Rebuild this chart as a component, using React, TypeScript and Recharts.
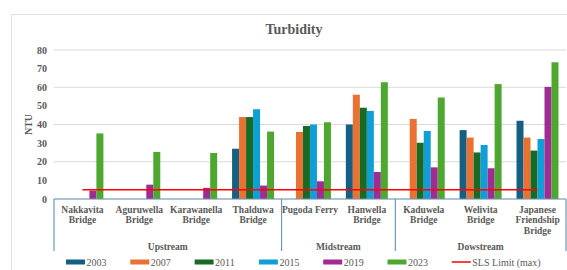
import * as React from "react";
import {
  ComposedChart,
  Bar,
  Line,
  XAxis,
  YAxis,
  CartesianGrid,
  Legend,
} from "recharts";

const SERIF = "Liberation Serif, DejaVu Serif, serif";
const GREY = "#595959";
const AXIS_BLUE = "#6f97b8";

// bridges along the river, line breaks as in the source axis
const categories = [
  "Nakkavita\nBridge",
  "Aguruwella\nBridge",
  "Karawanella\nBridge",
  "Thalduwa\nBridge",
  "Pugoda Ferry",
  "Hanwella\nBridge",
  "Kaduwela\nBridge",
  "Welivita\nBridge",
  "Japanese\nFriendship\nBridge",
];

const groupNames = ["Upstream", "Midstream", "Dowstream"];
const groupSizes = [4, 2, 3];

const t2003 = [null, null, null, 27, null, 40, null, 37, 42];
const t2007 = [null, null, null, 44, 36, 56, 43, 33, 33];
const t2011 = [null, null, null, 44, 39.2, 49, 30.2, 25, 26];
const t2015 = [null, null, null, 48.2, 40, 47.3, 36.5, 29, 32.2];
const t2019 = [4.5, 7.7, 6, 7.2, 9.5, 14.5, 17, 16.5, 60.2];
const t2023 = [35.2, 25.3, 24.7, 36.2, 41.2, 62.7, 54.5, 61.7, 73.4];
const slsLimit = [5, 5, 5, 5, 5, 5, 5, 5, 5];

const yTicks = [0, 10, 20, 30, 40, 50, 60, 70, 80];

const series = [
  { key: "2003", values: t2003, color: "#156082" },
  { key: "2007", values: t2007, color: "#E97132" },
  { key: "2011", values: t2011, color: "#196B24" },
  { key: "2015", values: t2015, color: "#0F9ED5" },
  { key: "2019", values: t2019, color: "#A02B93" },
  { key: "2023", values: t2023, color: "#4EA72E" },
];

const data = categories.map((name, i) => {
  const row: Record<string, any> = { name, sls: slsLimit[i] };
  series.forEach((s) => {
    row[s.key] = s.values[i];
  });
  return row;
});

// index of first category in each group
const groupStarts = groupSizes.map((_, g) =>
  groupSizes.slice(0, g).reduce((a, b) => a + b, 0)
);

const BAND = 512 / categories.length;
const AXIS_DEPTH = 52;

const CategoryTick = (props: any) => {
  const { x, y, payload } = props;
  const idx: number = props.index ?? payload.index;
  const half: number = payload.offset || BAND / 2;
  const lines = String(payload.value).split("\n");
  const g = groupStarts.indexOf(idx);
  return (
    <g>
      <text
        x={x}
        y={y}
        textAnchor="middle"
        fill={GREY}
        fontSize={9.5}
        fontWeight="bold"
        style={{ fontFamily: SERIF }}
      >
        {lines.map((l, i) => (
          <tspan key={i} x={x} dy={i === 0 ? 13.5 : 10.7}>
            {l}
          </tspan>
        ))}
      </text>
      {g >= 0 && (
        <>
          <line
            x1={x - half}
            x2={x - half}
            y1={y}
            y2={y + AXIS_DEPTH}
            stroke={AXIS_BLUE}
            strokeWidth={1.2}
          />
          <text
            x={x - half + groupSizes[g] * half}
            y={y + 50.5}
            textAnchor="middle"
            fill={GREY}
            fontSize={9.5}
            fontWeight="bold"
            style={{ fontFamily: SERIF }}
          >
            {groupNames[g]}
          </text>
        </>
      )}
      {idx === categories.length - 1 && (
        <line
          x1={x + half}
          x2={x + half}
          y1={y}
          y2={y + AXIS_DEPTH}
          stroke={AXIS_BLUE}
          strokeWidth={1.2}
        />
      )}
    </g>
  );
};

const LegendContent = (props: any) => {
  const items: any[] = props.payload || [];
  return (
    <svg width={567} height={18} style={{ display: "block" }}>
      {items.map((it, i) => {
        const x0 = 66 + i * 64.3;
        const isLine = it.type === "line";
        return (
          <g key={String(it.value)}>
            {isLine ? (
              <line x1={x0} x2={x0 + 19} y1={11} y2={11} stroke={it.color} strokeWidth={1.5} />
            ) : (
              <rect x={x0} y={8.5} width={19} height={5} fill={it.color} />
            )}
            <text
              x={x0 + 20.5}
              y={14.5}
              fill={GREY}
              fontSize={10}
              style={{ fontFamily: SERIF }}
            >
              {it.value}
            </text>
          </g>
        );
      })}
    </svg>
  );
};

export default function App() {
  return (
    <div
      style={{
        position: "absolute",
        left: 0,
        top: 0,
        width: 567,
        height: 270,
        overflow: "hidden",
        background: "#fff",
        fontFamily: SERIF,
      }}
    >
      <div
        style={{
          position: "absolute",
          left: 11,
          top: 14,
          width: 600,
          height: 300,
          border: "1px solid #e2e2e2",
        }}
      />
      <div
        style={{
          position: "absolute",
          left: 194,
          top: 21,
          width: 200,
          textAlign: "center",
          fontWeight: "bold",
          fontSize: 14,
          lineHeight: "18px",
          color: GREY,
        }}
      >
        Turbidity
      </div>
      <ComposedChart
        width={567}
        height={270}
        data={data}
        margin={{ top: 50, right: 1, bottom: 1, left: 0 }}
        barGap={0}
        barCategoryGap="13%"
        style={{ fontFamily: SERIF }}
      >
        <CartesianGrid vertical={false} stroke="#d9d9d9" />
        <XAxis
          dataKey="name"
          interval={0}
          height={AXIS_DEPTH}
          tickLine={false}
          tickSize={0}
          tickMargin={0}
          axisLine={{ stroke: AXIS_BLUE, strokeWidth: 1.2 }}
          tick={<CategoryTick />}
        />
        <YAxis
          width={54}
          domain={[0, 80]}
          ticks={yTicks}
          axisLine={false}
          tickLine={false}
          tickSize={5}
          tickMargin={2}
          tick={{
            fill: GREY,
            fontSize: 10,
            fontWeight: "bold",
            style: { fontFamily: SERIF },
          }}
          label={{
            value: "NTU",
            angle: -90,
            position: "center",
            dx: 1,
            fill: GREY,
            fontSize: 10,
            fontWeight: "bold",
            style: { fontFamily: SERIF },
          }}
        />
        {series.map((s) => (
          <Bar
            key={s.key}
            dataKey={s.key}
            name={s.key}
            fill={s.color}
            isAnimationActive={false}
          />
        ))}
        <Line
          dataKey="sls"
          name="SLS Limit (max)"
          type="linear"
          stroke="#FF0000"
          strokeWidth={1.5}
          dot={false}
          legendType="line"
          isAnimationActive={false}
        />
        <Legend
          verticalAlign="bottom"
          height={18}
          width={567}
          wrapperStyle={{ left: 0 }}
          content={<LegendContent />}
        />
      </ComposedChart>
    </div>
  );
}
